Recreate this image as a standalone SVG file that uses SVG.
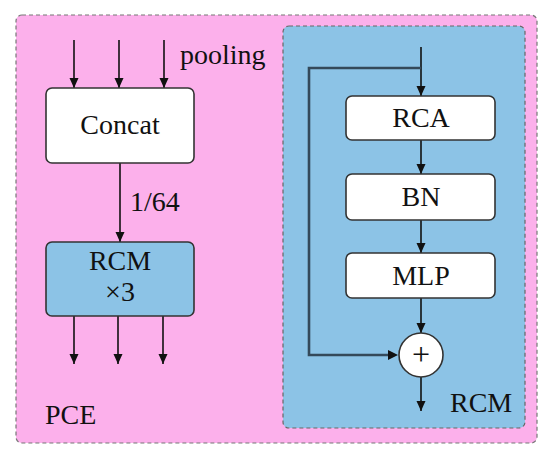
<svg xmlns="http://www.w3.org/2000/svg" width="550" height="459" viewBox="0 0 550 459">
<style>
.t{font-family:"Liberation Serif","Times New Roman",serif;font-size:28px;fill:#111;}
.box{fill:#fff;stroke:#333;stroke-width:1.6;}
.ln{stroke:#111;stroke-width:1.6;fill:none;}
.loop{stroke:#34495a;stroke-width:2.6;fill:none;}
</style>
<defs>
<marker id="ah" markerWidth="10" markerHeight="10" refX="10" refY="5" orient="auto" markerUnits="userSpaceOnUse">
<path d="M0,0.5 L10,5 L0,9.5 Z" fill="#111"/>
</marker>
</defs>
<rect x="16" y="15" width="521" height="428" rx="6" fill="#fcb0eb" stroke="#777" stroke-width="1.2" stroke-dasharray="4,3"/>
<rect x="283" y="26" width="242" height="402" rx="6" fill="#8cc3e6" stroke="#666" stroke-width="1.2" stroke-dasharray="4,3"/>
<g id="connectors">
<line class="ln" x1="74" y1="40" x2="74" y2="88" marker-end="url(#ah)"/>
<line class="ln" x1="119" y1="40" x2="119" y2="88" marker-end="url(#ah)"/>
<line class="ln" x1="164" y1="40" x2="164" y2="88" marker-end="url(#ah)"/>
<line class="ln" x1="120" y1="163" x2="120" y2="242" marker-end="url(#ah)"/>
<line class="ln" x1="74" y1="316" x2="74" y2="364" marker-end="url(#ah)"/>
<line class="ln" x1="118" y1="316" x2="118" y2="364" marker-end="url(#ah)"/>
<line class="ln" x1="163" y1="316" x2="163" y2="364" marker-end="url(#ah)"/>
<line class="ln" x1="421" y1="47" x2="421" y2="96" marker-end="url(#ah)"/>
<polyline class="loop" points="421,68 309,68 309,355 389,355"/>
<path d="M388,350 L398,355 L388,360 Z" fill="#111"/>
<line class="ln" x1="421" y1="140" x2="421" y2="174" marker-end="url(#ah)"/>
<line class="ln" x1="421" y1="220" x2="421" y2="253" marker-end="url(#ah)"/>
<line class="ln" x1="421" y1="298" x2="421" y2="333" marker-end="url(#ah)"/>
<line class="ln" x1="421" y1="377" x2="421" y2="411" marker-end="url(#ah)"/>
</g>
<g id="concat">
<rect class="box" x="46" y="88" width="148" height="75" rx="6"/>
<text class="t" x="120" y="134" text-anchor="middle">Concat</text>
</g>
<text class="t" x="180" y="64">pooling</text>
<text class="t" x="130" y="211">1/64</text>
<g id="rcm3">
<rect x="46" y="242" width="148" height="74" rx="6" fill="#8cc3e6" stroke="#333" stroke-width="1.6"/>
<text class="t" x="120" y="270" text-anchor="middle">RCM</text>
<text class="t" x="120" y="301" text-anchor="middle">×3</text>
</g>
<text class="t" x="45" y="424">PCE</text>
<g id="rca">
<rect class="box" x="346" y="96" width="149" height="44" rx="6"/>
<text class="t" x="421" y="127" text-anchor="middle">RCA</text>
</g>
<g id="bn">
<rect class="box" x="346" y="174" width="149" height="46" rx="6"/>
<text class="t" x="421" y="206" text-anchor="middle">BN</text>
</g>
<g id="mlp">
<rect class="box" x="346" y="253" width="149" height="45" rx="6"/>
<text class="t" x="421" y="285" text-anchor="middle">MLP</text>
</g>
<g id="add">
<circle cx="421" cy="355" r="22" fill="#fff" stroke="#333" stroke-width="1.6"/>
<text class="t" x="421" y="365" text-anchor="middle" style="font-size:32px">+</text>
</g>
<text class="t" x="450" y="412">RCM</text>
</svg>
